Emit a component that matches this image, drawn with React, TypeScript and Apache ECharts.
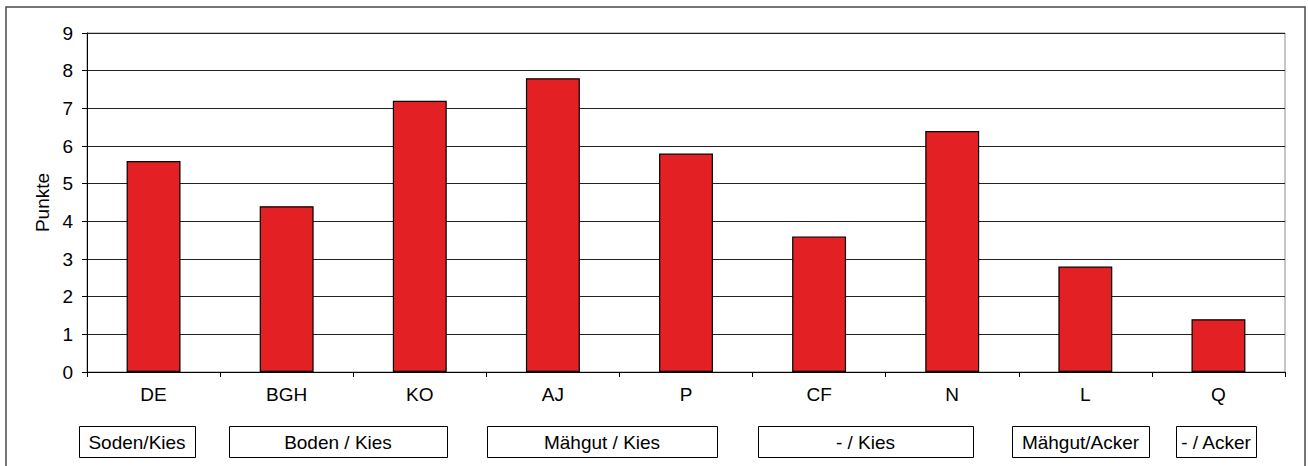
import React, { useEffect, useRef } from "react";
import * as echarts from "echarts";

const categories = ["DE", "BGH", "KO", "AJ", "P", "CF", "N", "L", "Q"];
const punkte = [5.6, 4.4, 7.2, 7.8, 5.8, 3.6, 6.4, 2.8, 1.4];
const yTicks = [0, 1, 2, 3, 4, 5, 6, 7, 8, 9];
const groupLabels = ["Soden/Kies", "Boden / Kies", "Mähgut / Kies", "- / Kies", "Mähgut/Acker", "- / Acker"];

// layout of the group boxes (pixels)
const groupBoxX = [
  [79, 195],
  [229, 447],
  [487, 717],
  [758, 973],
  [1012, 1149],
  [1176, 1256],
];
const BOX_TOP = 426;
const BOX_H = 31;

const FONT = "'Liberation Sans', Arial, sans-serif";
const FS = 19;

export default function App() {
  const ref = useRef<HTMLDivElement>(null);
  useEffect(() => {
    if (!ref.current) return;
    const chart = echarts.init(ref.current, null, { renderer: "svg" });
    const boxes: any[] = [];
    groupLabels.forEach((lab, i) => {
      const [x0, x1] = groupBoxX[i];
      boxes.push({
        type: "rect",
        shape: { x: x0 + 0.5, y: BOX_TOP + 0.5, width: x1 - x0, height: BOX_H },
        style: { fill: "#fff", stroke: "#000", lineWidth: 1 },
        z: 10,
      });
      boxes.push({
        type: "text",
        x: (x0 + x1) / 2,
        y: BOX_TOP + BOX_H / 2 + 1,
        style: {
          text: lab,
          fill: "#000",
          font: `${FS}px ${FONT}`,
          textAlign: "center",
          textVerticalAlign: "middle",
        },
        z: 11,
      });
    });
    chart.setOption({
      animation: false,
      backgroundColor: "#fff",
      textStyle: { fontFamily: FONT },
      grid: { left: 87, top: 33, right: 23, bottom: 94, show: true, borderColor: "#8c8c8c", borderWidth: 1 },
      graphic: [
        {
          type: "rect",
          shape: { x: 6, y: 7, width: 1299, height: 480 },
          style: { fill: "none", stroke: "#4a4a4a", lineWidth: 1.5 },
          z: 0,
        },
        ...boxes,
      ],
      xAxis: {
        type: "category",
        data: categories,
        boundaryGap: true,
        axisLine: { lineStyle: { color: "#000", width: 1 } },
        axisTick: { show: true, length: 5, lineStyle: { color: "#000" } },
        axisLabel: { color: "#000", fontSize: FS, margin: 13, fontFamily: FONT },
        splitLine: { show: false },
      },
      yAxis: {
        type: "value",
        min: yTicks[0],
        max: yTicks[yTicks.length - 1],
        interval: 1,
        name: "Punkte",
        nameLocation: "middle",
        nameGap: 35,
        nameTextStyle: { color: "#000", fontSize: FS, fontFamily: FONT },
        axisLine: { show: true, lineStyle: { color: "#000", width: 1 } },
        axisTick: { show: true, length: 5, lineStyle: { color: "#000" } },
        axisLabel: { color: "#000", fontSize: FS, margin: 14, fontFamily: FONT },
        splitLine: { show: true, lineStyle: { color: "#222", width: 1 } },
      },
      series: [
        {
          type: "bar",
          data: punkte,
          barWidth: "40.5%",
          itemStyle: { color: "#e32124", borderColor: "#000", borderWidth: 1.2 },
        },
      ],
    });
    return () => chart.dispose();
  }, []);
  return (
    <div
      ref={ref}
      style={{ position: "fixed", left: 0, top: 0, width: 1308, height: 466, background: "#fff" }}
    />
  );
}
